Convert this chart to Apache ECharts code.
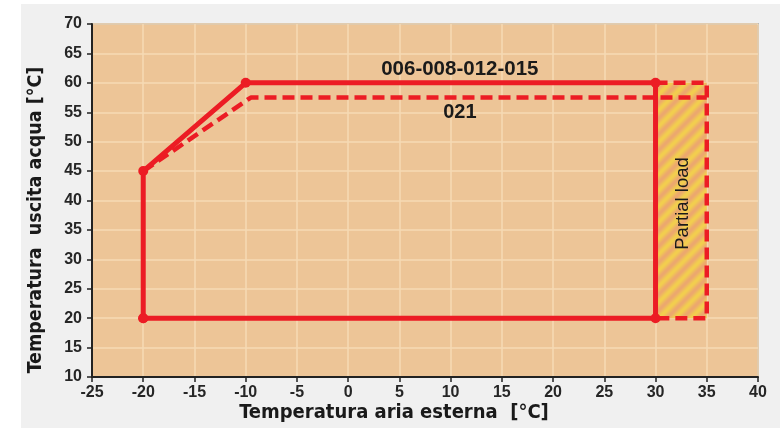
<!DOCTYPE html>
<html>
<head>
<meta charset="utf-8">
<script src="https://cdn.jsdelivr.net/npm/echarts@6/dist/echarts.min.js"></script>
<style>
html,body{margin:0;padding:0;background:#ffffff;}
#chart{width:780px;height:430px;}
</style>
</head>
<body>
<div id="chart"></div>
<script>
// ---- data ----
const xTicks = [-25, 40, 5];          // min, max, step of outdoor air temperature
const yTicks = [10, 70, 5];           // min, max, step of leaving water temperature
const envelopeX = [-20, -20, -10, 30, 30, -20];
const envelopeY = [20, 45, 60, 60, 20, 20];
const model021X = [-20, -9.5, 35];
const model021Y = [45, 57.5, 57.5];
const partialX = [30, 35, 35, 30];
const partialY = [60, 60, 20, 20];
const partialAreaX = [30, 35];
const partialAreaY = [20, 60];
const labelMain = '006-008-012-015';
const labelMainPos = [10.9, 62.3];
const label021 = '021';
const label021Pos = [10.9, 54.9];
const labelPartial = 'Partial load';
const labelPartialPos = [32.7, 39.5];
const xTitle = 'Temperatura aria esterna  [°C]';
const yTitle = 'Temperatura  uscita acqua [°C]';

function pairs(xs, ys){ return xs.map((x,i)=>[x, ys[i]]); }

// striped pattern for partial-load area
function makeStripes(){
  const n = 16;
  const c = document.createElement('canvas');
  c.width = n; c.height = n;
  const ctx = c.getContext('2d');
  const img = ctx.createImageData(n, n);
  const y1 = [242, 206, 78], o1 = [236, 168, 110];
  for (let y = 0; y < n; y++) {
    for (let x = 0; x < n; x++) {
      const ph = ((x + y) % n) / n;
      const t = 0.5 + 0.5 * Math.cos(ph * 2 * Math.PI);
      const i = (y * n + x) * 4;
      for (let k = 0; k < 3; k++) img.data[i + k] = Math.round(y1[k] * t + o1[k] * (1 - t));
      img.data[i + 3] = 255;
    }
  }
  ctx.putImageData(img, 0, 0);
  return c;
}

const RED = '#ec1c24';
const tickFont = {color: '#262626', fontFamily: 'Liberation Sans, Arial, sans-serif', fontWeight: 'bold', fontSize: 16};
const titleFont = 'Liberation Sans Narrow, DejaVu Sans Condensed, sans-serif';

const chart = echarts.init(document.getElementById('chart'), null, {renderer: 'canvas'});
chart.setOption({
  animation: false,
  backgroundColor: '#ffffff',
  graphic: [
    {type: 'rect', z: -100, silent: true, shape: {x: 21, y: 4, width: 759, height: 424}, style: {fill: '#f0f0f0'}},
    {type: 'text', z: 10, x: 394, y: 413, style: {text: xTitle, x: 0, y: 0, align: 'center', verticalAlign: 'middle', font: 'bold 20px ' + titleFont, fill: '#1a1a1a'}},
    {type: 'text', z: 10, rotation: Math.PI / 2, x: 36, y: 220, style: {text: yTitle, x: 0, y: 0, align: 'center', verticalAlign: 'middle', font: 'bold 19.5px ' + titleFont, fill: '#1a1a1a'}}
  ],
  grid: {left: 92, right: 22, top: 24, bottom: 53, show: true, backgroundColor: '#edc597', borderColor: '#8c8c8c', borderWidth: 1.5},
  xAxis: {
    type: 'value', min: xTicks[0], max: xTicks[1], interval: xTicks[2],
    axisLine: {show: true, onZero: false, lineStyle: {color: '#222', width: 2}},
    axisTick: {show: true, length: 5, lineStyle: {color: '#222', width: 1.5}},
    axisLabel: Object.assign({margin: 8}, tickFont),
    splitLine: {show: true, lineStyle: {color: '#f6dab4', width: 1.5}}
  },
  yAxis: {
    type: 'value', min: yTicks[0], max: yTicks[1], interval: yTicks[2],
    axisLine: {show: true, onZero: false, lineStyle: {color: '#222', width: 2}},
    axisTick: {show: true, length: 5, lineStyle: {color: '#222', width: 1.5}},
    axisLabel: Object.assign({margin: 10}, tickFont),
    splitLine: {show: true, lineStyle: {color: '#f6dab4', width: 1.5}}
  },
  series: [
    {
      type: 'line', name: 'area', data: [], silent: true, z: 1,
      markArea: {
        silent: true,
        itemStyle: {color: {image: makeStripes(), repeat: 'repeat'}, opacity: 1},
        data: [[{coord: [partialAreaX[0], partialAreaY[0]]}, {coord: [partialAreaX[1], partialAreaY[1]]}]]
      }
    },
    {
      type: 'line', name: '021', data: pairs(model021X, model021Y), showSymbol: false, z: 3,
      lineStyle: {color: RED, width: 4.5, type: [12, 6]}
    },
    {
      type: 'line', name: 'partial', data: pairs(partialX, partialY), showSymbol: false, z: 3,
      lineStyle: {color: RED, width: 4.5, type: [12, 6]}
    },
    {
      type: 'line', name: 'envelope', data: pairs(envelopeX, envelopeY), z: 4,
      symbol: 'circle', symbolSize: 10, showSymbol: true,
      itemStyle: {color: RED}, lineStyle: {color: RED, width: 5},
      markPoint: {
        symbol: 'circle', symbolSize: 0, silent: true,
        data: [
          {coord: labelMainPos, label: {show: true, formatter: labelMain, color: '#1a1a1a', fontFamily: 'Liberation Sans, Arial, sans-serif', fontWeight: 'bold', fontSize: 20.5, position: 'inside'}},
          {coord: label021Pos, label: {show: true, formatter: label021, color: '#1a1a1a', fontFamily: 'Liberation Sans, Arial, sans-serif', fontWeight: 'bold', fontSize: 20, position: 'inside'}},
          {coord: labelPartialPos, label: {show: true, formatter: labelPartial, color: '#1a1a1a', fontFamily: 'Liberation Sans, Arial, sans-serif', fontSize: 18.5, rotate: 90, position: 'inside'}}
        ]
      }
    }
  ]
});
</script>
</body>
</html>
